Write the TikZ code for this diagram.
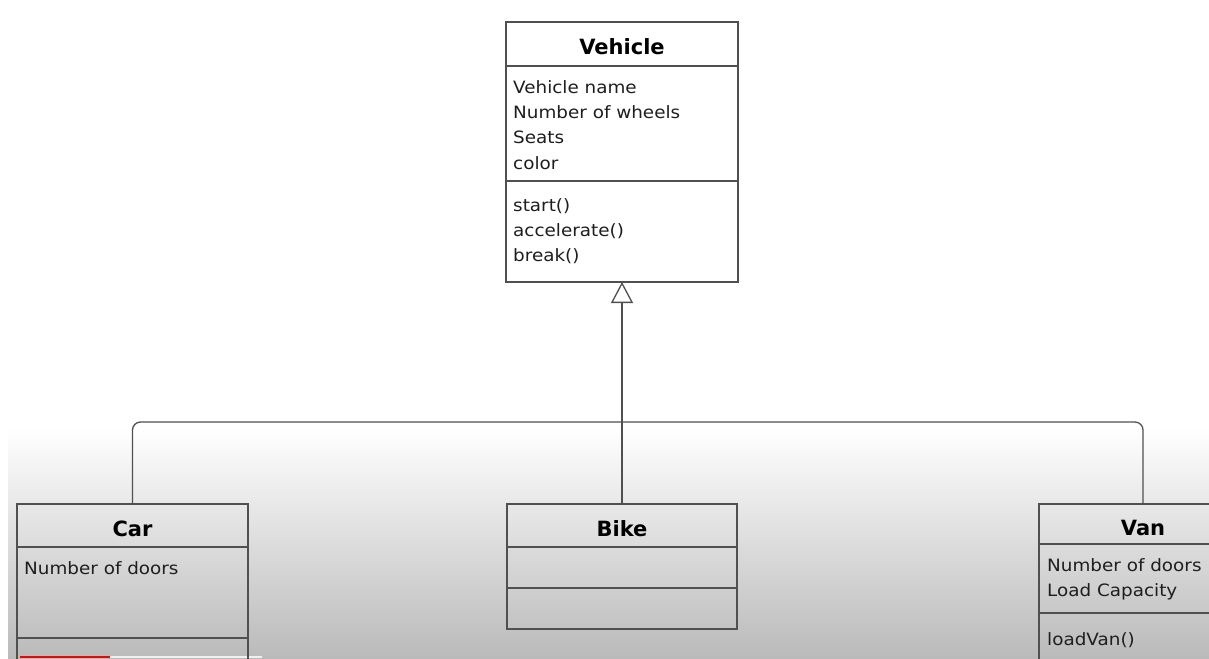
\documentclass[tikz,border=0pt]{standalone}
\usepackage{fontspec}
\setmainfont{DejaVu Sans}[FakeStretch=1.08]
\newfontfamily\headfont{DejaVu Sans}
\usepackage{xcolor}
\usetikzlibrary{positioning,arrows.meta}
\definecolor{linegray}{RGB}{80,80,80}
\definecolor{textgray}{RGB}{30,30,30}
\definecolor{shadegray}{RGB}{186,186,186}
\definecolor{barred}{RGB}{225,10,10}

\begin{document}
\begin{tikzpicture}[x=1pt,y=-1pt,
    box/.style={draw=linegray,rectangle,line width=1.4pt,inner sep=0pt,outer sep=0pt,minimum width=231pt},
    classtitle/.style={box,font=\headfont\bfseries\fontsize{21}{21}\selectfont,text height=22pt,text depth=0pt},
    members/.style={align=left,inner sep=0pt,text=textgray,font=\fontsize{17}{25.3}\selectfont},
    link/.style={draw=linegray,line width=1.3pt}]
    \path[use as bounding box] (0,0) rectangle (1209,658);
    \clip (0,0) rectangle (1209,658);
    \fill[white] (0,0) rectangle (1209,658);
    \shade[top color=white,bottom color=shadegray] (8,428) rectangle (1209,658);
    \fill[barred] (20,655.5) rectangle (110,658);
    \fill[gray!12] (110,656) rectangle (262,658);

    % Vehicle
    \node[classtitle,minimum width=232pt,minimum height=44pt] (vehicle) at (622,44) {Vehicle};
    \node[box,minimum width=232pt,minimum height=115pt,below=0pt of vehicle] (vehicleattr) {};
    \node[box,minimum width=232pt,minimum height=101pt,below=0pt of vehicleattr] (vehicleops) {};
    \node[members,below right=14pt and 7pt of vehicleattr.north west] (vehicleattrtext) {Vehicle name\\Number of wheels\\Seats\\color};
    \node[members,below right=17pt and 7pt of vehicleops.north west] (vehicleopstext) {start()\\accelerate()\\break()};

    % Car
    \node[classtitle,minimum height=43pt] (car) at (132.5,525.5) {Car};
    \node[box,minimum height=91pt,below=0pt of car] (carattr) {};
    \node[box,minimum height=60pt,below=0pt of carattr] (carops) {};
    \node[members,below right=14pt and 7pt of carattr.north west] (carattrtext) {Number of doors};

    % Bike
    \node[classtitle,minimum width=230pt,minimum height=43pt] (bike) at (622,525.5) {Bike};
    \node[box,minimum width=230pt,minimum height=41pt,below=0pt of bike] (bikeattr) {};
    \node[box,minimum width=230pt,minimum height=41pt,below=0pt of bikeattr] (bikeops) {};

    % Van
    \node[classtitle,minimum width=208pt,minimum height=40pt] (van) at (1143,524) {Van};
    \node[box,minimum width=208pt,minimum height=69pt,below=0pt of van] (vanattr) {};
    \node[box,minimum width=208pt,minimum height=60pt,below=0pt of vanattr] (vanops) {};
    \node[members,below right=14.5pt and 8pt of vanattr.north west] (vanattrtext) {Number of doors\\Load Capacity};
    \node[members,below right=19pt and 8pt of vanops.north west] (vanopstext) {loadVan()};

    % inheritance
    \coordinate (hub) at (622,422);
    \draw[link,rounded corners=8pt] (car.north) |- (hub) -| (van.north);
    \draw[link,-{Triangle[open,length=21pt,width=22pt]}] (bike.north) -- (vehicleops.south);
\end{tikzpicture}
\end{document}
